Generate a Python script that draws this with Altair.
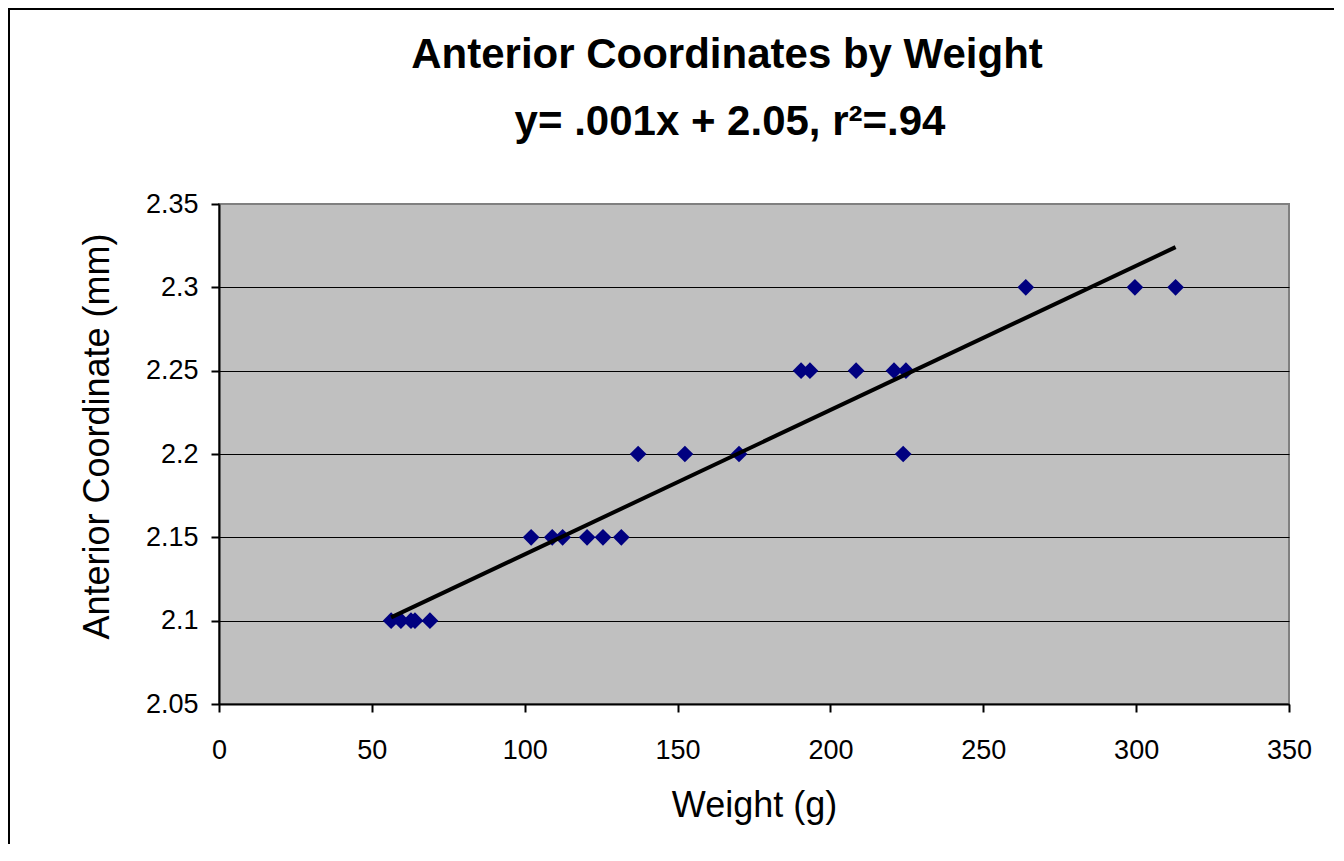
import altair as alt
import pandas as pd

# ---- data ----
weight_g = [56.3, 59.5, 62.8, 64.1, 69.0,
            102.1, 109.0, 112.4, 120.4, 125.6, 131.6,
            137.1, 152.4, 170.1, 223.8,
            190.4, 193.3, 208.4, 220.8, 224.7,
            263.9, 299.6, 312.9]
anterior_mm = [2.10, 2.10, 2.10, 2.10, 2.10,
               2.15, 2.15, 2.15, 2.15, 2.15, 2.15,
               2.20, 2.20, 2.20, 2.20,
               2.25, 2.25, 2.25, 2.25, 2.25,
               2.30, 2.30, 2.30]
title_lines = ["Anterior Coordinates by Weight", "y= .001x + 2.05,  r\u00b2=.94"]
x_ticks = [0, 50, 100, 150, 200, 250, 300, 350]
y_ticks = [2.05, 2.10, 2.15, 2.20, 2.25, 2.30, 2.35]

df = pd.DataFrame({"Weight": weight_g, "Anterior": anterior_mm})
one = pd.DataFrame({"k": [0]})

FONT = "Liberation Sans"

x_enc = alt.X(
    "Weight:Q",
    scale=alt.Scale(domain=[0, 350], nice=False, zero=False),
    axis=alt.Axis(
        values=x_ticks, format="d", title="Weight (g)", grid=False,
        labelFont=FONT, labelFontSize=27, labelColor="black",
        labelBaseline="alphabetic", labelPadding=46,
        tickSize=8, tickWidth=2, tickColor="black",
        domainColor="black", domainWidth=2,
        titleFont=FONT, titleFontSize=36, titleFontWeight="normal",
        titleColor="black", titleBaseline="alphabetic", titleY=112, titleX=535,
        labelFlush=False, labelOverlap=False,
    ),
)
y_enc = alt.Y(
    "Anterior:Q",
    scale=alt.Scale(domain=[2.05, 2.35], nice=False, zero=False),
    axis=alt.Axis(
        values=y_ticks, format=".3~g", title="Anterior Coordinate (mm)",
        grid=True, gridWidth=1,
        gridColor={"condition": {"test": "datum.value > 2.34", "value": "#808080"}, "value": "black"},
        labelFont=FONT, labelFontSize=27, labelColor="black", labelPadding=13,
        tickSize=8, tickWidth=2, tickColor="black",
        domainColor="black", domainWidth=2,
        titleFont=FONT, titleFontSize=36, titleFontWeight="normal",
        titleColor="black", titleAngle=270, titleBaseline="alphabetic",
        titleAlign="center", titleX=-111, titleY=232,
        labelFlush=False, labelOverlap=False,
    ),
)

points = alt.Chart(df).mark_point(
    shape="diamond", filled=True, size=280, color="#000080", opacity=1
).encode(x=x_enc, y=y_enc)

trend = alt.Chart(df).transform_regression(
    "Weight", "Anterior"
).mark_line(color="black", strokeWidth=4).encode(
    x=alt.X("Weight:Q"), y=alt.Y("Anterior:Q")
)

title1 = alt.Chart(one).mark_text(
    font=FONT, fontSize=42, fontWeight="bold", color="black",
    align="center", baseline="alphabetic", clip=False
).encode(x=alt.value(508), y=alt.value(-136), text=alt.value(title_lines[0]))

title2 = alt.Chart(one).mark_text(
    font=FONT, fontSize=42, fontWeight="bold", color="black",
    align="center", baseline="alphabetic", clip=False
).encode(x=alt.value(511), y=alt.value(-69), text=alt.value(title_lines[1]))

frame_left = alt.Chart(one).mark_rule(color="black", strokeWidth=2, clip=False).encode(
    x=alt.value(-210), y=alt.value(-196), y2=alt.value(700)
)
frame_top = alt.Chart(one).mark_rule(color="black", strokeWidth=2, clip=False).encode(
    x=alt.value(-211), x2=alt.value(1200), y=alt.value(-195)
)

chart = alt.layer(
    frame_left, frame_top, title1, title2, points, trend
).properties(
    width=1070, height=500,
    padding={"left": 211, "top": 196, "right": 45, "bottom": 140},
    autosize=alt.AutoSizeParams(type="none"),
    background="white",
).configure_view(
    fill="#C0C0C0", stroke="#808080", strokeWidth=2
)

chart.save("out.html", embed_options={"renderer": "svg", "actions": False})
